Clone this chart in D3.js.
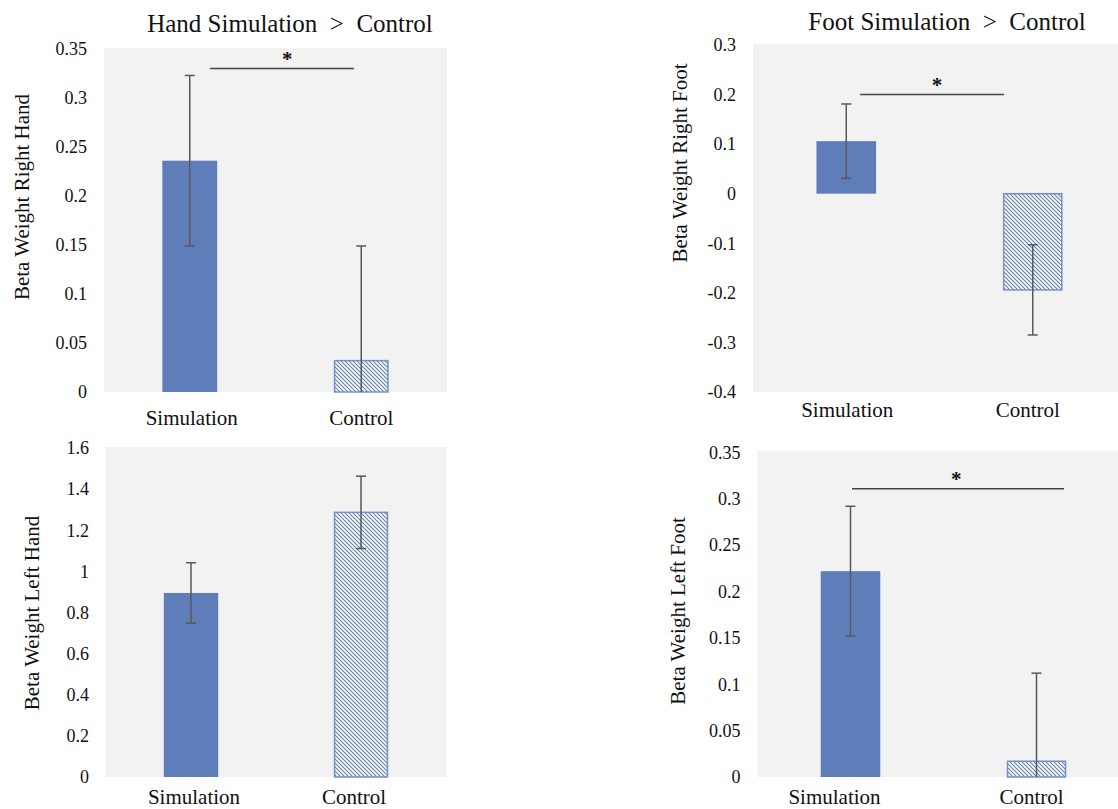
<!DOCTYPE html>
<html><head><meta charset="utf-8">
<script src="https://cdn.jsdelivr.net/npm/d3@7"></script>
<style>
html,body{margin:0;padding:0;background:#fff;}
svg{display:block;}
svg text{font-family:"Liberation Serif","Times New Roman",serif !important;}
</style></head>
<body>
<svg id="chart" width="1118" height="809"></svg>
<script>
// ---- data ----
const categories = ["Simulation", "Control"];

const rightHandMeans = [0.236, 0.032];
const rightHandErrors = [0.087, 0.117];
const rightHandTicks = [0, 0.05, 0.1, 0.15, 0.2, 0.25, 0.3, 0.35];
const rightHandSig = 0.33;

const rightFootMeans = [0.106, -0.194];
const rightFootErrors = [0.075, 0.091];
const rightFootTicks = [-0.4, -0.3, -0.2, -0.1, 0, 0.1, 0.2, 0.3];
const rightFootSig = 0.2;

const leftHandMeans = [0.895, 1.287];
const leftHandErrors = [0.147, 0.176];
const leftHandTicks = [0, 0.2, 0.4, 0.6, 0.8, 1, 1.2, 1.4, 1.6];
const leftHandSig = null;

const leftFootMeans = [0.222, 0.017];
const leftFootErrors = [0.070, 0.095];
const leftFootTicks = [0, 0.05, 0.1, 0.15, 0.2, 0.25, 0.3, 0.35];
const leftFootSig = 0.311;

const titles = ["Hand Simulation  >  Control", "Foot Simulation  >  Control"];
const yTitles = ["Beta Weight Right Hand", "Beta Weight Right Foot", "Beta Weight Left Hand", "Beta Weight Left Foot"];

// ---- layout ----
const panels = [
  {means: rightHandMeans, errs: rightHandErrors, ticks: rightHandTicks, sig: rightHandSig, yTitle: yTitles[0],
   x0: 104, x1: 447, yb: 392, yt: 49, bgTop: 48, ytx: 22, yty: 197, catY: 425, catDx: [2, 0], sigX: [0.309, 0.729], starX: 0.534},
  {means: rightFootMeans, errs: rightFootErrors, ticks: rightFootTicks, sig: rightFootSig, yTitle: yTitles[1],
   x0: 753, x1: 1126, yb: 392, yt: 45, bgTop: 44, ytx: 680, yty: 163, catY: 417, catDx: [1, -5], sigX: [0.287, 0.673], starX: 0.493},
  {means: leftHandMeans, errs: leftHandErrors, ticks: leftHandTicks, sig: leftHandSig, yTitle: yTitles[2],
   x0: 106, x1: 446, yb: 777, yt: 448, bgTop: 447, ytx: 32, yty: 613, catY: 804, catDx: [3, -7], sigX: null, starX: null},
  {means: leftFootMeans, errs: leftFootErrors, ticks: leftFootTicks, sig: leftFootSig, yTitle: yTitles[3],
   x0: 757.5, x1: 1129.5, yb: 777, yt: 452.5, bgTop: 451, ytx: 678, yty: 611, catY: 804, catDx: [-16, -5], sigX: [0.254, 0.824], starX: 0.534}
];

const barColor = "#5f7eb9";
const hatchColor = "#5f7eb9";
const errColor = "#595959";
const serif = '"Liberation Serif", "Times New Roman", serif';

const svg = d3.select("#chart");
const defs = svg.append("defs");
const pat = defs.append("pattern").attr("id", "hatch")
  .attr("patternUnits", "userSpaceOnUse").attr("width", 4).attr("height", 4);
pat.append("rect").attr("width", 4).attr("height", 4).attr("fill", "#fff");
pat.append("path").attr("d", "M-1,-1 L5,5 M3,-1 L5,1 M-1,3 L1,5")
  .attr("stroke", hatchColor).attr("stroke-width", 1.1);

const fmt = d => String(+d.toFixed(2));

panels.forEach((p, i) => {
  const g = svg.append("g");
  const dom = d3.extent(p.ticks);
  const y = d3.scaleLinear().domain(dom).range([p.yb, p.yt]);
  const x = d3.scaleBand().domain(categories).range([p.x0, p.x1]).paddingInner(0.68).paddingOuter(0.34);

  g.append("rect").attr("x", p.x0).attr("y", p.bgTop)
    .attr("width", p.x1 - p.x0).attr("height", p.yb - p.bgTop).attr("fill", "#f2f2f2");

  const ax = g.append("g").attr("transform", `translate(${p.x0},0)`)
    .call(d3.axisLeft(y).tickValues(p.ticks).tickSize(0).tickPadding(17).tickFormat(fmt));
  ax.attr("font-family", null).attr("font-size", null);
  ax.select(".domain").remove();
  ax.selectAll("text").style("font-family", serif).style("font-size", "18px").attr("fill", "#111");

  const data = categories.map((c, k) => ({c, v: p.means[k], e: p.errs[k], k}));

  g.selectAll(".bar").data(data).enter().append("rect")
    .attr("x", d => x(d.c) + (d.k === 1 ? 0.75 : 0))
    .attr("width", d => x.bandwidth() - (d.k === 1 ? 1.5 : 0))
    .attr("y", d => Math.min(y(d.v), y(0)))
    .attr("height", d => Math.abs(y(d.v) - y(0)))
    .attr("fill", d => d.k === 0 ? barColor : "url(#hatch)")
    .attr("stroke", d => d.k === 0 ? "none" : "#7390c9")
    .attr("stroke-width", 1.5);

  // error bars
  data.forEach(d => {
    const cx = x(d.c) + x.bandwidth() / 2;
    const hi = Math.min(d.v + d.e, dom[1]);
    const lo = Math.max(d.v - d.e, dom[0]);
    g.append("line").attr("x1", cx).attr("x2", cx).attr("y1", y(hi)).attr("y2", y(lo))
      .attr("stroke", errColor).attr("stroke-width", 1.5);
    if (d.v + d.e <= dom[1])
      g.append("line").attr("x1", cx - 5).attr("x2", cx + 5).attr("y1", y(hi)).attr("y2", y(hi))
        .attr("stroke", errColor).attr("stroke-width", 1.5);
    if (d.v - d.e >= dom[0])
      g.append("line").attr("x1", cx - 5).attr("x2", cx + 5).attr("y1", y(lo)).attr("y2", y(lo))
        .attr("stroke", errColor).attr("stroke-width", 1.5);
  });

  // category labels
  g.selectAll(".cat").data(data).enter().append("text")
    .attr("x", d => x(d.c) + x.bandwidth() / 2 + p.catDx[d.k])
    .attr("y", p.catY).attr("text-anchor", "middle")
    .style("font-family", serif).style("font-size", "21px").attr("fill", "#111").text(d => d.c);

  // y title
  g.append("text").attr("transform", `translate(${p.ytx},${p.yty}) rotate(-90)`)
    .attr("text-anchor", "middle").attr("dominant-baseline", "central")
    .style("font-family", serif).style("font-size", "21px").attr("fill", "#111").text(p.yTitle);

  // significance
  if (p.sig !== null) {
    const w = p.x1 - p.x0;
    g.append("line").attr("x1", p.x0 + w * p.sigX[0]).attr("x2", p.x0 + w * p.sigX[1])
      .attr("y1", y(p.sig)).attr("y2", y(p.sig)).attr("stroke", "#444").attr("stroke-width", 1.5);
    g.append("text").attr("x", p.x0 + w * p.starX).attr("y", y(p.sig) - 3)
      .attr("text-anchor", "middle").style("font-family", serif).style("font-size", "21px")
      .attr("font-weight", "bold").attr("fill", "#111").text("*");
  }
});

// titles
svg.append("text").attr("x", 290).attr("y", 32).attr("text-anchor", "middle")
  .style("font-family", serif).style("font-size", "25px").attr("fill", "#111")
  .style("white-space", "pre").text(titles[0]);
svg.append("text").attr("x", 947).attr("y", 30).attr("text-anchor", "middle")
  .style("font-family", serif).style("font-size", "25px").attr("fill", "#111")
  .style("white-space", "pre").text(titles[1]);
</script>
</body></html>
